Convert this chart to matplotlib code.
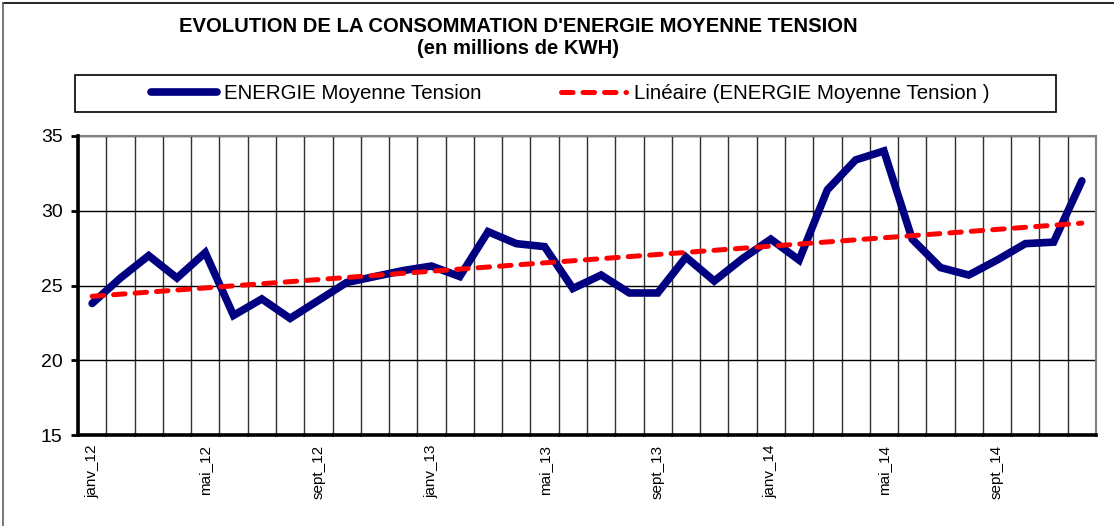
import matplotlib
matplotlib.use("Agg")
import matplotlib.pyplot as plt
from matplotlib.lines import Line2D
from matplotlib.patches import Rectangle
import numpy as np

plt.rcParams['font.family'] = ['Liberation Sans', 'DejaVu Sans']

# monthly values, janv_12 .. déc_14 (millions de KWH)
months = ["janv", "févr", "mars", "avr", "mai", "juin",
          "juil", "août", "sept", "oct", "nov", "déc"]
years = ["12", "13", "14"]
labels = [f"{m}_{y}" for y in years for m in months]
energie = [23.8, 25.5, 27.0, 25.5, 27.2, 23.0, 24.1, 22.8, 24.0, 25.2, 25.6, 26.0,
           26.3, 25.6, 28.6, 27.8, 27.6, 24.8, 25.7, 24.5, 24.5, 26.9, 25.3, 26.8,
           28.1, 26.7, 31.4, 33.4, 34.0, 28.1, 26.2, 25.7, 26.7, 27.8, 27.9, 32.0]

x = np.arange(len(energie))
slope, intercept = np.polyfit(x, energie, 1)
trend = slope * x + intercept

W, H = 1114, 526
fig = plt.figure(figsize=(W / 100, H / 100), dpi=100)
ax = fig.add_axes([78 / W, 1 - 435 / H, (1096 - 78) / W, (435 - 136) / H])

ax.plot(x, energie, color="#000080", lw=5.5, solid_capstyle="round",
        solid_joinstyle="miter", zorder=3)
ax.plot(x, trend, color="#FF0000", lw=3.6, dashes=(2.3, 2.0),
        dash_capstyle="round", zorder=4)

ax.set_xlim(-0.5, len(energie) - 0.5)
ax.set_ylim(15, 35)
ax.set_yticks([15, 20, 25, 30, 35])
ax.set_xticks(x[::4])
ax.set_xticklabels(labels[::4], rotation=90, fontsize=11)
ax.set_xticks(np.arange(-0.5, len(energie)), minor=True)
ax.tick_params(axis="x", which="major", length=0, pad=7)
ax.tick_params(axis="x", which="minor", length=3, width=1.5, direction="inout", color="black")
ax.tick_params(axis="y", length=5, width=2, direction="out", labelsize=14, pad=6)

ax.grid(True, axis="x", which="minor", color="#303030", lw=1)
ax.grid(True, axis="y", which="major", color="black", lw=1)
ax.set_axisbelow(True)

for s in ["left", "bottom"]:
    ax.spines[s].set_linewidth(2.6)
    ax.spines[s].set_color("black")
    ax.spines[s].set_zorder(5)
for s in ["top", "right"]:
    ax.spines[s].set_linewidth(1.5)
    ax.spines[s].set_color("#808080")

fig.text(518 / W, 1 - 27 / H, "EVOLUTION DE LA CONSOMMATION D'ENERGIE MOYENNE TENSION",
         ha="center", va="center", fontsize=14.6, fontweight="bold")
fig.text(518 / W, 1 - 48 / H, "(en millions de KWH)",
         ha="center", va="center", fontsize=14.6, fontweight="bold")

# legend box
fig.patches.append(Rectangle((75 / W, 1 - 112 / H), (1056 - 75) / W, 37 / H,
                             transform=fig.transFigure, fill=False,
                             edgecolor="black", lw=1.2))
handles = [Line2D([], [], color="#000080", lw=5.5, solid_capstyle="round"),
           Line2D([], [], color="#FF0000", lw=3.6, dashes=(2.3, 2.0), dash_capstyle="round")]
fig.legend(handles, ["ENERGIE Moyenne Tension", "Linéaire (ENERGIE Moyenne Tension )"],
           loc="center", bbox_to_anchor=(570 / W, 1 - 93.5 / H), ncol=2,
           frameon=False, fontsize=14.8, handlelength=3.2, handletextpad=0.35,
           columnspacing=3.85)

# outer border (top and left)
fig.add_artist(Line2D([3 / W, 1], [1 - 3 / H, 1 - 3 / H], transform=fig.transFigure,
                      color="black", lw=1.2))
fig.add_artist(Line2D([3 / W, 3 / W], [0, 1 - 3 / H], transform=fig.transFigure,
                      color="#606060", lw=1.2))

fig.savefig("out.png", dpi=100)
